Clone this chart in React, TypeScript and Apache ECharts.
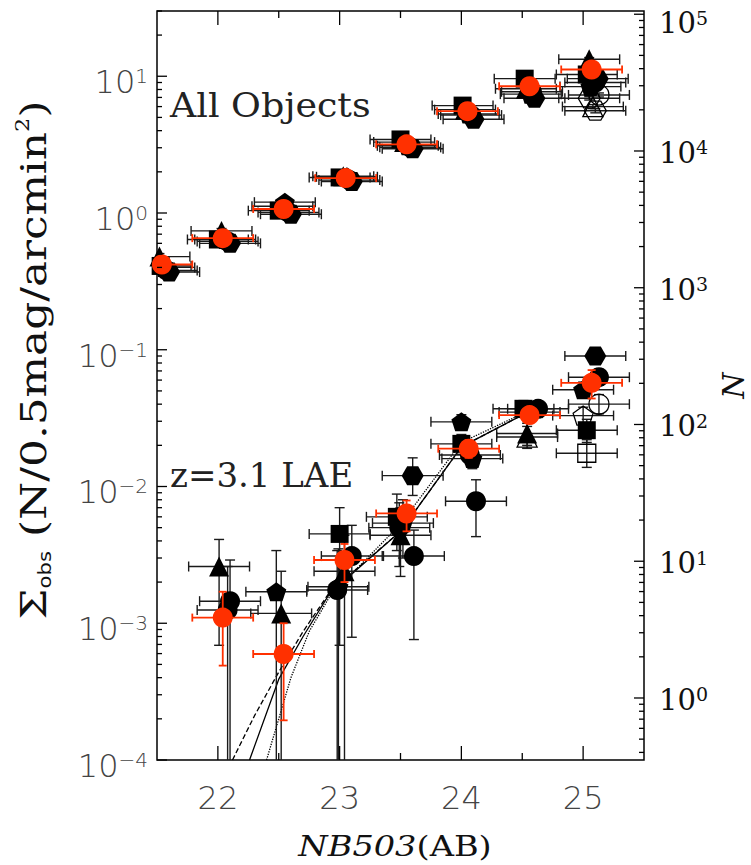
import React, { useEffect, useRef } from "react";
import * as echarts from "echarts";

// ---------- axes ----------
const MAG_MIN = 21.5;
const MAG_MAX = 25.5;
const magTickLabels = [22, 23, 24, 25];
const magMinorTicks = [22.5, 23.5, 24.5];
const SIGMA_MIN = 1e-4;
const SIGMA_MAX = 30;
const sigmaDecades = [1e-4, 1e-3, 1e-2, 1e-1, 1, 10];
const N_PER_SIGMA = 3520; // N = Sigma * (area factor)
const nDecades = [1, 10, 100, 1000, 10000, 100000];
const BIN_HALF = 0.25; // horizontal error (half bin width)

// ---------- All objects: [mag, Sigma, SigmaLow, SigmaHigh] ----------
const allMean = [
  [21.54, 0.42, 0.40, 0.44],
  [22.04, 0.655, 0.63, 0.68],
  [22.54, 1.07, 1.04, 1.10],
  [23.05, 1.80, 1.76, 1.84],
  [23.55, 3.18, 3.12, 3.24],
  [24.05, 5.55, 5.47, 5.63],
  [24.56, 8.45, 8.35, 8.55],
  [25.07, 11.2, 11.05, 11.35],
];
const allCircle = [
  [21.58, 0.38, 0.36, 0.40],
  [22.08, 0.62, 0.595, 0.645],
  [22.58, 1.01, 0.98, 1.04],
  [23.08, 1.74, 1.70, 1.78],
  [23.58, 3.02, 2.96, 3.08],
  [24.08, 5.2, 5.1, 5.3],
  [24.58, 7.7, 7.55, 7.85],
  [25.10, 9.0, 8.8, 9.2],
];
const allTriangle = [
  [21.52, 0.48, 0.455, 0.505],
  [22.03, 0.74, 0.71, 0.77],
  [22.53, 1.12, 1.08, 1.16],
  [23.03, 1.86, 1.81, 1.91],
  [23.53, 3.3, 3.22, 3.38],
  [24.03, 5.7, 5.58, 5.82],
  [24.53, 8.1, 7.9, 8.3],
  [25.05, 13.3, 12.9, 13.7],
];
const allSquare = [
  [21.53, 0.41, 0.39, 0.43],
  [22.00, 0.64, 0.615, 0.665],
  [22.50, 1.04, 1.01, 1.07],
  [23.00, 1.82, 1.77, 1.87],
  [23.50, 3.45, 3.37, 3.53],
  [24.01, 6.1, 5.97, 6.23],
  [24.52, 9.6, 9.4, 9.8],
  [25.03, 10.3, 10.0, 10.6],
];
const allPentagon = [
  [21.56, 0.40, 0.38, 0.42],
  [22.06, 0.64, 0.615, 0.665],
  [22.55, 1.2, 1.16, 1.24],
  [23.06, 1.84, 1.79, 1.89],
  [23.56, 3.1, 3.03, 3.17],
  [24.06, 5.3, 5.19, 5.41],
  [24.57, 7.4, 7.25, 7.55],
  [25.06, 8.4, 8.2, 8.6],
];
const allHexagon = [
  [21.60, 0.37, 0.35, 0.39],
  [22.10, 0.60, 0.575, 0.625],
  [22.60, 0.98, 0.95, 1.01],
  [23.10, 1.70, 1.66, 1.74],
  [23.60, 2.95, 2.89, 3.01],
  [24.10, 4.85, 4.75, 4.95],
  [24.60, 6.9, 6.76, 7.04],
  [25.12, 9.6, 9.4, 9.8],
];
const allOpenCircle = [[25.13, 7.3, 7.05, 7.55]];
const allOpenHexagon = [
  [25.05, 6.9, 6.7, 7.1],
  [25.10, 5.6, 5.4, 5.8],
];
const allOpenTriangle = [[25.08, 6.0, 5.8, 6.2]];

// ---------- z=3.1 LAE: [mag, Sigma, SigmaLow, SigmaHigh] ----------
const laeMean = [
  [22.04, 1.10e-3, 4.9e-4, 1.70e-3],
  [22.54, 5.96e-4, 1.95e-4, 1.0e-3],
  [23.04, 2.9e-3, 2.0e-3, 3.8e-3],
  [23.55, 6.35e-3, 4.7e-3, 7.9e-3],
  [24.06, 1.89e-2, 1.62e-2, 2.19e-2],
  [24.56, 3.33e-2, 2.9e-2, 3.8e-2],
  [25.07, 5.73e-2, 4.4e-2, 7.1e-2],
];
const laeCircle = [
  [22.10, 1.45e-3, 1e-5, 2.9e-3],
  [22.08, 1.25e-3, 1e-5, 2.6e-3],
  [22.98, 1.75e-3, 1e-5, 3.4e-3],
  [23.10, 3.1e-3, 7.9e-4, 5.2e-3],
  [23.49, 5.0e-3, 2.6e-3, 7.6e-3],
  [23.61, 3.1e-3, 7.6e-4, 4.8e-3],
  [24.07, 1.7e-2, 1.45e-2, 1.95e-2],
  [24.12, 7.8e-3, 4.3e-3, 1.12e-2],
  [24.63, 3.7e-2, 3.2e-2, 4.2e-2],
  [25.13, 6.3e-2, 5.5e-2, 7.2e-2],
];
const laeTriangle = [
  [22.01, 2.6e-3, 6.9e-4, 4.1e-3],
  [22.52, 1.18e-3, 1e-5, 2.4e-3],
  [23.04, 2.4e-3, 1e-5, 4.4e-3],
  [23.50, 4.4e-3, 2.2e-3, 7.0e-3],
  [24.54, 2.44e-2, 2.0e-2, 2.9e-2],
];
const laeSquare = [
  [23.00, 4.5e-3, 6.9e-4, 7.0e-3],
  [23.47, 6.0e-3, 3.4e-3, 8.8e-3],
  [24.00, 2.05e-2, 1.72e-2, 2.4e-2],
  [24.51, 3.7e-2, 3.2e-2, 4.25e-2],
  [25.03, 2.58e-2, 2.1e-2, 3.1e-2],
];
const laePentagon = [
  [22.48, 1.7e-3, 1e-5, 3.4e-3],
  [22.99, 1.85e-3, 1e-5, 3.5e-3],
  [23.52, 5.4e-3, 3.0e-3, 8.0e-3],
  [24.00, 2.97e-2, 2.6e-2, 3.35e-2],
  [24.09, 1.6e-2, 1.35e-2, 1.88e-2],
  [24.56, 3.5e-2, 3.05e-2, 4.0e-2],
  [25.00, 5.1e-2, 4.5e-2, 5.8e-2],
];
const laeHexagon = [
  [23.60, 1.2e-2, 8.6e-3, 1.62e-2],
  [25.10, 9.0e-2, 8.0e-2, 1.0e-1],
];
const laeOpenTriangle = [[24.54, 2.3e-2, 1.9e-2, 2.75e-2]];
const laeOpenCircle = [[25.13, 4.0e-2, 3.4e-2, 4.7e-2]];
const laeOpenPentagon = [[25.00, 3.3e-2, 2.8e-2, 3.8e-2]];
const laeOpenSquare = [[25.03, 1.75e-2, 1.38e-2, 2.2e-2]];

// ---------- model curves ----------
const modelSolidMag = [22.26, 22.5, 22.7, 22.92, 23.5, 24.0, 24.5];
const modelSolidSigma = [1e-4, 3.9e-4, 8.0e-4, 1.66e-3, 4.7e-3, 1.95e-2, 3.33e-2];
const modelDashedMag = [22.12, 22.3, 22.5, 22.7, 22.92, 23.5, 24.0, 24.5];
const modelDashedSigma = [1e-4, 2.1e-4, 4.4e-4, 8.7e-4, 1.7e-3, 4.7e-3, 1.95e-2, 3.33e-2];
const modelDottedMag = [22.40, 22.6, 22.75, 22.92, 23.5, 24.0, 24.5];
const modelDottedSigma = [1e-4, 4.0e-4, 8.7e-4, 1.58e-3, 5.3e-3, 2.1e-2, 3.4e-2];

// ---------- texts ----------
const X_TITLE = "{i|NB503}{r|(AB)}";
const Y_TITLE = "{a|\u03a3}{sub|obs}{a| (N/0.5mag/arcmin}{sup|2}{a|)}";
const Y2_TITLE = "N";
const LABEL_ALL = "All Objects";
const LABEL_LAE = "z=3.1 LAE";

// ---------- styles ----------
const PENTAGON = "path://M0,-10 L9.51,-3.09 L5.88,8.09 L-5.88,8.09 L-9.51,-3.09 Z";
const HEXAGON = "path://M-10,0 L-5,-8.66 L5,-8.66 L10,0 L5,8.66 L-5,8.66 Z";
const RED = "#ff3000";
const BLACK = "#000";

function errorBarRenderer(color: string, width: number, cap: number) {
  return (params: any, api: any) => {
    const x = api.value(0);
    const y = api.value(1);
    const ylo = api.value(2);
    const yhi = api.value(3);
    const c = api.coord([x, y]);
    const l = api.coord([x - BIN_HALF, y]);
    const r = api.coord([x + BIN_HALF, y]);
    const lo = api.coord([x, ylo]);
    const hi = api.coord([x, yhi]);
    const st = { stroke: color, lineWidth: width };
    const h = cap / 2;
    return {
      type: "group",
      children: [
        { type: "line", shape: { x1: l[0], y1: c[1], x2: r[0], y2: c[1] }, style: st },
        { type: "line", shape: { x1: l[0], y1: c[1] - h, x2: l[0], y2: c[1] + h }, style: st },
        { type: "line", shape: { x1: r[0], y1: c[1] - h, x2: r[0], y2: c[1] + h }, style: st },
        { type: "line", shape: { x1: c[0], y1: lo[1], x2: c[0], y2: hi[1] }, style: st },
        { type: "line", shape: { x1: c[0] - h, y1: lo[1], x2: c[0] + h, y2: lo[1] }, style: st },
        { type: "line", shape: { x1: c[0] - h, y1: hi[1], x2: c[0] + h, y2: hi[1] }, style: st },
      ],
    };
  };
}

function tickRenderer(params: any, api: any) {
  const kind = api.value(2);
  const len = api.value(3);
  const cs = params.coordSys;
  const p = api.coord([api.value(0), api.value(1)]);
  const st = { stroke: "#000", lineWidth: 1.3 };
  const bottom = cs.y + cs.height;
  const right = cs.x + cs.width;
  if (kind === 0) {
    return {
      type: "group",
      children: [
        { type: "line", shape: { x1: p[0], y1: bottom, x2: p[0], y2: bottom - len }, style: st },
        { type: "line", shape: { x1: p[0], y1: cs.y, x2: p[0], y2: cs.y + len }, style: st },
      ],
    };
  }
  if (kind === 1) {
    return { type: "line", shape: { x1: cs.x, y1: p[1], x2: cs.x + len, y2: p[1] }, style: st };
  }
  return { type: "line", shape: { x1: right - len, y1: p[1], x2: right, y2: p[1] }, style: st };
}

function decadeExp(v: number): number | null {
  const e = Math.log10(v);
  const r = Math.round(e);
  return Math.abs(e - r) > 1e-6 ? null : r;
}
function expText(r: number) {
  return r < 0 ? "\u2212" + Math.abs(r) : String(r);
}
function leftLabel(v: number) {
  const r = decadeExp(v);
  if (r === null) return "";
  return "{b|10}{s|" + expText(r) + "}";
}
function rightLabel(v: number) {
  const r = decadeExp(v);
  if (r === null) return "";
  const t = "{b|10}{s|" + expText(r) + "}";
  // the top label sits a little lower, inside the page
  return r === 5 ? "\n" + t : t;
}

const zip = (a: number[], b: number[]) => a.map((v, i) => [v, b[i]]);
const xy = (rows: number[][]) => rows.map((r) => [r[0], r[1]]);

export default function App() {
  const ref = useRef<HTMLDivElement>(null);
  useEffect(() => {
    if (!ref.current) return;
    const chart = echarts.init(ref.current, undefined, { renderer: "svg" });

    // tick marks
    const leftTicks: number[][] = [];
    sigmaDecades.forEach((d) => {
      leftTicks.push([MAG_MIN, d, 1, 10]);
      for (let m = 2; m <= 9; m++) {
        if (d * m <= SIGMA_MAX) leftTicks.push([MAG_MIN, d * m, 1, 5]);
      }
    });
    const xTicks = [
      ...magTickLabels.map((m) => [m, SIGMA_MIN, 0, 14]),
      ...magMinorTicks.map((m) => [m, SIGMA_MIN, 0, 7]),
    ];
    const nMin = SIGMA_MIN * N_PER_SIGMA;
    const nMax = SIGMA_MAX * N_PER_SIGMA;
    const rightTicks: number[][] = [];
    [0.1, ...nDecades].forEach((d) => {
      if (d >= nMin && d <= nMax) rightTicks.push([MAG_MIN, d, 2, 10]);
      for (let m = 2; m <= 9; m++) {
        if (d * m >= nMin && d * m <= nMax) rightTicks.push([MAG_MIN, d * m, 2, 5]);
      }
    });

    const blackRows = [
      ...allCircle, ...allTriangle, ...allSquare, ...allPentagon, ...allHexagon,
      ...allOpenCircle, ...allOpenHexagon, ...allOpenTriangle,
      ...laeCircle, ...laeTriangle, ...laeSquare, ...laePentagon, ...laeHexagon,
      ...laeOpenTriangle, ...laeOpenCircle, ...laeOpenPentagon, ...laeOpenSquare,
    ];
    const redRows = [...allMean, ...laeMean];

    const filled = (name: string, symbol: string, size: number, rows: number[][]) => ({
      name,
      type: "scatter",
      symbol,
      symbolSize: size,
      symbolKeepAspect: true,
      data: xy(rows),
      itemStyle: { color: BLACK, opacity: 1 },
      z: 4,
      clip: true,
    });
    const open = (name: string, symbol: string, size: number, rows: number[][]) => ({
      name,
      type: "scatter",
      symbol,
      symbolSize: size,
      symbolKeepAspect: true,
      data: xy(rows),
      itemStyle: { color: "rgba(255,255,255,0)", borderColor: BLACK, borderWidth: 1.3, opacity: 1 },
      z: 4,
      clip: true,
    });
    const model = (name: string, type: string, mags: number[], vals: number[]) => ({
      name,
      type: "line",
      data: zip(mags, vals),
      showSymbol: false,
      symbol: "none",
      clip: true,
      lineStyle: { color: BLACK, width: 1.3, type },
      z: 2,
    });

    const labelBase = {
      fontFamily: "DejaVu Sans",
      fontWeight: 200,
      color: "#444",
    };
    const serifLabel = { fontFamily: "DejaVu Serif", color: "#111" };

    const option: any = {
      animation: false,
      backgroundColor: "#fff",
      grid: {
        left: 157,
        top: 11,
        width: 487,
        height: 749,
        show: true,
        borderColor: "#000",
        borderWidth: 1.5,
        backgroundColor: "transparent",
        containLabel: false,
        outerBoundsMode: "none",
      },
      xAxis: {
        type: "value",
        min: MAG_MIN,
        max: MAG_MAX,
        interval: 0.5,
        axisLine: { show: false },
        axisTick: { show: false },
        splitLine: { show: false },
        axisLabel: {
          ...labelBase,
          fontSize: 32,
          margin: 22,
          formatter: (v: number) => (magTickLabels.includes(v) ? String(v) : ""),
        },
      },
      yAxis: [
        {
          type: "log",
          logBase: 10,
          min: SIGMA_MIN,
          max: SIGMA_MAX,
          axisLine: { show: false },
          axisTick: { show: false },
          splitLine: { show: false },
          minorTick: { show: false },
          axisLabel: {
            margin: 9,
            padding: [12, 0, 0, 0],
            formatter: leftLabel,
            rich: {
              b: { ...labelBase, fontSize: 32, lineHeight: 32 },
              s: { ...labelBase, fontSize: 20, lineHeight: 14, verticalAlign: "top" },
            },
          },
        },
        {
          type: "log",
          logBase: 10,
          position: "right",
          min: nMin,
          max: nMax,
          axisLine: { show: false },
          axisTick: { show: false },
          splitLine: { show: false },
          minorTick: { show: false },
          axisLabel: {
            margin: 15,
            padding: [4, 0, 0, 0],
            fontSize: 14,
            lineHeight: 14,
            formatter: rightLabel,
            rich: {
              b: { ...serifLabel, fontSize: 29, lineHeight: 30 },
              s: { ...serifLabel, fontSize: 19, lineHeight: 10, verticalAlign: "top" },
            },
          },
          name: Y2_TITLE,
          nameLocation: "middle",
          nameRotate: 90,
          nameGap: 72,
          nameTextStyle: { fontFamily: "DejaVu Serif", fontStyle: "italic", fontSize: 30, color: "#111" },
        },
      ],
      graphic: [
        {
          type: "text",
          x: 170,
          y: 88,
          scaleX: 1.07,
          style: { text: LABEL_ALL, font: "34px 'DejaVu Serif'", fill: "#222" },
          z: 10,
        },
        {
          type: "text",
          x: 170,
          y: 458,
          style: { text: LABEL_LAE, font: "34px 'DejaVu Serif'", fill: "#222" },
          z: 10,
        },
        {
          type: "text",
          x: 395,
          y: 846,
          scaleX: 1.2,
          style: {
            text: X_TITLE,
            align: "center",
            verticalAlign: "middle",
            rich: {
              i: { fontFamily: "DejaVu Serif", fontStyle: "italic", fontSize: 28, fill: "#111" },
              r: { fontFamily: "DejaVu Serif", fontSize: 28, fill: "#111" },
            },
          },
          z: 10,
        },
        {
          type: "text",
          x: 34,
          y: 360,
          rotation: Math.PI / 2,
          scaleX: 1.25,
          style: {
            text: Y_TITLE,
            align: "center",
            verticalAlign: "middle",
            rich: {
              a: { fontFamily: "DejaVu Serif", fontSize: 35, lineHeight: 40, fill: "#111" },
              sub: { fontFamily: "DejaVu Sans", fontSize: 17, lineHeight: 18, verticalAlign: "bottom", fill: "#111" },
              sup: { fontFamily: "DejaVu Serif", fontSize: 18, lineHeight: 16, verticalAlign: "top", fill: "#111" },
            },
          },
          z: 10,
        },
      ],
      series: [
        {
          name: "ticks",
          type: "custom",
          renderItem: tickRenderer,
          data: [...xTicks, ...leftTicks],
          encode: { x: 0, y: 1 },
          clip: false,
          silent: true,
          z: 10,
        },
        {
          name: "ticksN",
          type: "custom",
          yAxisIndex: 1,
          renderItem: tickRenderer,
          data: rightTicks,
          encode: { x: 0, y: 1 },
          clip: false,
          silent: true,
          z: 10,
        },
        model("model solid", "solid", modelSolidMag, modelSolidSigma),
        model("model dashed", "dashed", modelDashedMag, modelDashedSigma),
        model("model dotted", "dotted", modelDottedMag, modelDottedSigma),
        {
          name: "field errors",
          type: "custom",
          renderItem: errorBarRenderer("#1a1a1a", 1.4, 10),
          data: blackRows,
          encode: { x: 0, y: 1 },
          clip: true,
          silent: true,
          z: 3,
        },
        filled("circle", "circle", 20, [...allCircle, ...laeCircle]),
        filled("triangle", "triangle", 20, [...allTriangle, ...laeTriangle]),
        filled("square", "rect", 18, [...allSquare, ...laeSquare]),
        filled("pentagon", PENTAGON, 20, [...allPentagon, ...laePentagon]),
        filled("hexagon", HEXAGON, 22, [...allHexagon, ...laeHexagon]),
        open("open circle", "circle", 20, [...allOpenCircle, ...laeOpenCircle]),
        open("open triangle", "triangle", 20, [...allOpenTriangle, ...laeOpenTriangle]),
        open("open square", "rect", 18, laeOpenSquare),
        open("open pentagon", PENTAGON, 20, laeOpenPentagon),
        open("open hexagon", HEXAGON, 22, allOpenHexagon),
        {
          name: "mean errors",
          type: "custom",
          renderItem: errorBarRenderer(RED, 1.8, 8),
          data: redRows,
          encode: { x: 0, y: 1 },
          clip: true,
          silent: true,
          z: 5,
        },
        {
          name: "mean",
          type: "scatter",
          symbol: "circle",
          symbolSize: 20,
          data: xy(redRows),
          itemStyle: { color: RED, opacity: 1 },
          z: 6,
        },
      ],
    };
    chart.setOption(option);
    return () => chart.dispose();
  }, []);
  return (
    <div
      ref={ref}
      style={{ position: "absolute", left: 0, top: 0, width: 751, height: 865, background: "#fff" }}
    />
  );
}
